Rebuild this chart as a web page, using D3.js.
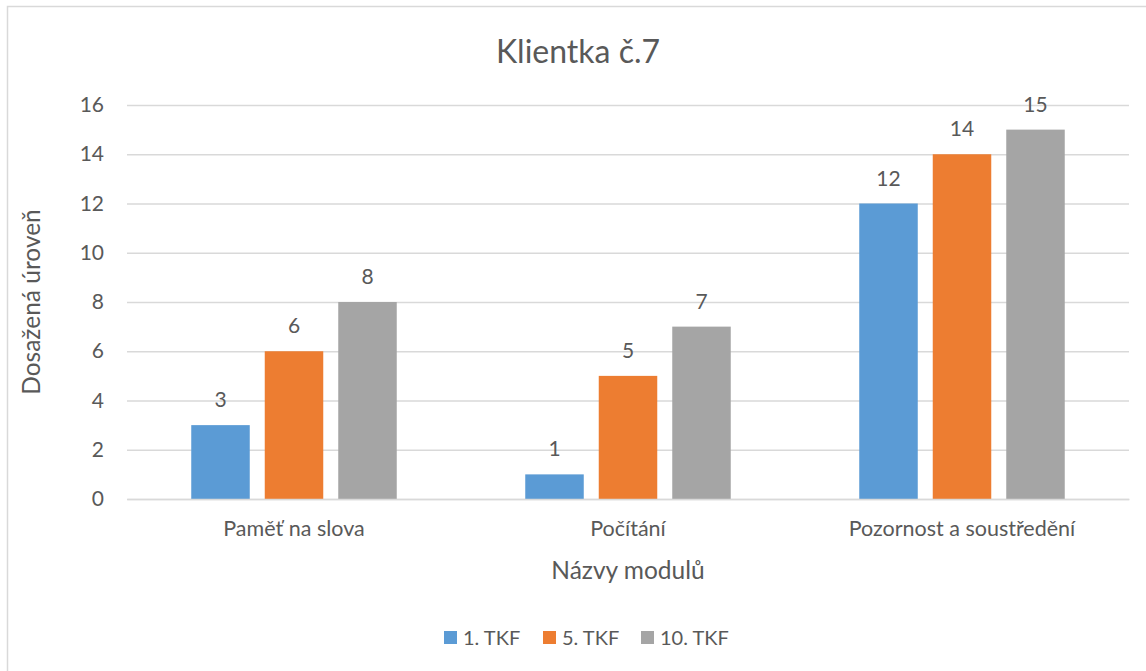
<!DOCTYPE html>
<html><head><meta charset="utf-8">
<script src="https://cdn.jsdelivr.net/npm/d3@7"></script>
<style>body{margin:0;background:#fff}svg{display:block}text{font-family:Lato,"Open Sans",sans-serif;fill:#595959}</style>
</head><body>
<script>
const categories = ["Paměť na slova", "Počítání", "Pozornost a soustředění"];
const seriesNames = ["1. TKF", "5. TKF", "10. TKF"];
const tkf1 = [3, 1, 12];
const tkf5 = [6, 5, 14];
const tkf10 = [8, 7, 15];
const yTicks = [0, 2, 4, 6, 8, 10, 12, 14, 16];
const colors = ["#5b9bd5", "#ed7d31", "#a5a5a5"];
const title = "Klientka č.7";
const yTitle = "Dosažená úroveň";
const xTitle = "Názvy modulů";

const W = 1146, H = 671;
const svg = d3.select("body").append("svg").attr("width", W).attr("height", H);
svg.append("rect").attr("x", 7.5).attr("y", 6.5).attr("width", W + 20).attr("height", H + 20)
  .attr("fill", "#fff").attr("stroke", "#d9d9d9").attr("stroke-width", 1.5);

const x0 = d3.scaleBand().domain(categories).range([127, 1129]).paddingInner(0).paddingOuter(0);
const x1 = d3.scaleBand().domain(seriesNames).range([64.25, 269.75]).paddingInner(0.204).paddingOuter(0);
const y = d3.scaleLinear().domain([0, 16]).range([499, 105]);

const yAxis = d3.axisLeft(y).tickValues(yTicks).tickSize(-(1129 - 127)).tickPadding(23);
const gy = svg.append("g").attr("transform", "translate(127,0)").call(yAxis);
gy.select(".domain").remove();
gy.selectAll(".tick line").attr("stroke", "#d9d9d9").attr("stroke-width", 1.5);
gy.selectAll(".tick text").attr("font-size", 21).attr("fill", "#595959").style("font-family", "Lato");

const series = [tkf1, tkf5, tkf10];
const data = [];
categories.forEach((c, i) => series.forEach((s, j) => data.push({c, s: seriesNames[j], v: s[i], col: colors[j]})));

const bars = svg.append("g");
bars.selectAll("rect").data(data).join("rect")
  .attr("x", d => x0(d.c) + x1(d.s))
  .attr("y", d => y(d.v))
  .attr("width", x1.bandwidth())
  .attr("height", d => y(0) - y(d.v))
  .attr("fill", d => d.col);

svg.append("g").selectAll("text").data(data).join("text")
  .attr("x", d => x0(d.c) + x1(d.s) + x1.bandwidth() / 2)
  .attr("y", d => y(d.v) - 18)
  .attr("text-anchor", "middle").attr("font-size", 21).attr("fill", "#404040")
  .text(d => d.v);

const xAxis = d3.axisBottom(x0).tickSize(0).tickPadding(22);
const gx = svg.append("g").attr("transform", "translate(0,499)").call(xAxis);
gx.select(".domain").attr("stroke", "#d9d9d9").attr("stroke-width", 1.5);
gx.selectAll(".tick text").attr("font-size", 21.5).attr("fill", "#595959").style("font-family", "Lato");

svg.append("text").attr("x", 578).attr("y", 63).attr("text-anchor", "middle")
  .attr("font-size", 32).text(title);
svg.append("text").attr("transform", "translate(40,302) rotate(-90)").attr("text-anchor", "middle")
  .attr("font-size", 24.5).text(yTitle);
svg.append("text").attr("x", 628).attr("y", 579).attr("text-anchor", "middle")
  .attr("font-size", 24.5).text(xTitle);

const legendX = [444, 543, 641];
const lg = svg.append("g");
seriesNames.forEach((s, i) => {
  lg.append("rect").attr("x", legendX[i]).attr("y", 631).attr("width", 13).attr("height", 13).attr("fill", colors[i]);
  lg.append("text").attr("x", legendX[i] + 19).attr("y", 645).attr("font-size", 20).text(s);
});
</script>
</body></html>
